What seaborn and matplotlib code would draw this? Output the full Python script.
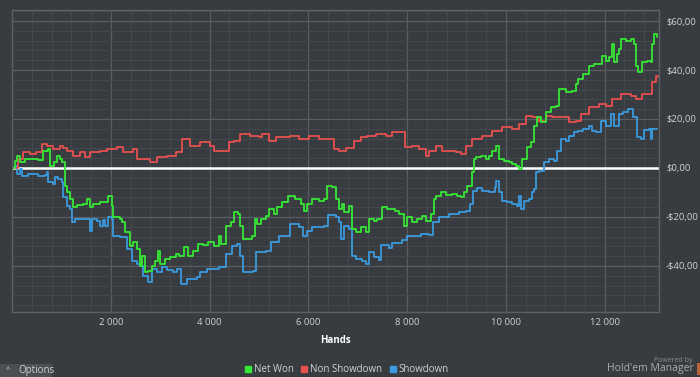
import pandas as pd
import seaborn as sns
import matplotlib.pyplot as plt
from matplotlib.ticker import MultipleLocator, FuncFormatter
from matplotlib.lines import Line2D
from matplotlib.patches import Rectangle

# values (hands, dollars)
net_hands = [0, 60, 100, 160, 260, 360, 530, 630, 730, 770, 850, 910, 970, 1010, 1070, 1110, 1170, 1230,
             1310, 1430, 1520, 1580, 1640, 1780, 1940, 1980, 2020, 2040, 2180, 2220, 2280, 2380, 2440, 2530,
             2590, 2630, 2690, 2750, 2830, 2890, 2950, 2990, 3090, 3190, 3330, 3390, 3490, 3560, 3660, 3760,
             3860, 3960, 4100, 4200, 4240, 4340, 4440, 4500, 4570, 4610, 4670, 4850, 4910, 4970, 5050, 5150,
             5210, 5310, 5370, 5470, 5580, 5680, 5740, 5860, 5920, 5980, 6080, 6220, 6320, 6380, 6480, 6570,
             6630, 6690, 6730, 6830, 6890, 6970, 7070, 7170, 7230, 7330, 7390, 7490, 7600, 7680, 7760, 7840,
             7940, 8000, 8100, 8200, 8300, 8380, 8480, 8540, 8580, 8690, 8790, 8910, 9010, 9090, 9150, 9210,
             9310, 9350, 9390, 9490, 9600, 9660, 9720, 9800, 9860, 9960, 10060, 10120, 10200, 10260, 10320,
             10420, 10500, 10560, 10630, 10710, 10810, 10910, 11010, 11070, 11210, 11330, 11410, 11470, 11570,
             11680, 11780, 11880, 11940, 12020, 12080, 12140, 12180, 12240, 12280, 12340, 12440, 12540, 12600,
             12640, 12680, 12750, 12850, 12930, 12950, 12990, 13050]
net_won = [0, 2.9, 4.9, 2.4, 3.7, 3.7, 3.3, 6.9, 7.8, 0.8, 2.4, 4.9, 3.7, 2.4, -7.3, -9.8, -12.6, -15.9,
           -15.1, -14.7, -12.6, -15.9, -14.7, -13.9, -11.4, -11.4, -15.5, -20.0, -20.8, -22.0, -26.1, -31.8,
           -30.2, -33.0, -40.0, -35.9, -42.4, -42.0, -40.0, -37.9, -33.9, -39.2, -37.1, -36.3, -35.1, -35.9,
           -32.2, -35.9, -33.9, -31.0, -31.4, -30.2, -31.8, -27.7, -31.0, -23.7, -22.0, -18.0, -18.8, -23.7,
           -29.0, -27.7, -20.8, -22.8, -20.8, -19.6, -16.7, -18.8, -15.9, -13.9, -11.4, -11.4, -12.6, -14.7,
           -17.5, -14.7, -12.6, -13.5, -12.6, -7.3, -7.8, -12.6, -16.7, -14.7, -18.0, -15.5, -24.9, -26.1,
           -24.1, -26.1, -20.8, -21.6, -20.8, -15.9, -16.7, -16.7, -17.5, -18.8, -23.7, -20.0, -22.0, -20.8,
           -19.6, -21.6, -18.8, -12.6, -11.4, -9.8, -11.0, -10.6, -11.4, -11.8, -9.8, -7.3, -1.6, 3.7, 4.5,
           4.9, 3.7, 4.9, 6.9, 9.0, 3.7, 2.9, 2.4, 1.6, 0.8, -0.4, 3.7, 8.6, 10.6, 17.1, 20.8, 18.8, 22.8,
           24.9, 25.3, 32.2, 31.0, 31.4, 34.3, 36.3, 38.4, 41.6, 42.4, 42.4, 45.7, 43.7, 45.3, 50.6, 43.2,
           46.5, 48.6, 52.6, 51.8, 52.6, 50.6, 41.6, 39.2, 43.2, 43.7, 43.2, 50.6, 54.7, 53.4]

nsd_hands = [0, 120, 220, 360, 480, 610, 710, 830, 970, 1030, 1110, 1230, 1370, 1470, 1580, 1780, 1920,
             2120, 2240, 2440, 2530, 2650, 2790, 2930, 3130, 3330, 3450, 3600, 3800, 4000, 4100, 4200, 4400,
             4500, 4610, 4810, 5010, 5070, 5210, 5350, 5620, 5820, 6020, 6220, 6420, 6520, 6630, 6770, 6930,
             7070, 7190, 7370, 7580, 7700, 7900, 7960, 8100, 8240, 8380, 8440, 8590, 8710, 8850, 8990, 9090,
             9190, 9310, 9510, 9720, 9920, 10120, 10260, 10400, 10520, 10670, 10810, 10930, 11130, 11270,
             11410, 11530, 11680, 11880, 12020, 12140, 12340, 12540, 12630, 12750, 12890, 12950, 13030, 13070]
non_showdown = [0, 3.7, 6.5, 5.7, 6.5, 9.8, 9.0, 7.8, 9.0, 8.2, 6.9, 4.9, 6.5, 4.5, 6.5, 6.9, 7.8, 8.6,
                6.5, 7.8, 3.7, 3.7, 2.4, 4.5, 4.9, 6.5, 11.8, 9.0, 10.6, 9.0, 6.9, 6.9, 10.6, 11.0, 13.9,
                13.1, 12.6, 13.9, 11.0, 12.6, 13.1, 11.8, 13.1, 11.8, 11.8, 7.8, 6.9, 8.2, 11.0, 12.6, 13.1,
                13.9, 13.1, 14.7, 14.7, 8.6, 9.0, 7.8, 4.9, 6.9, 9.0, 6.9, 6.9, 6.5, 5.7, 9.0, 11.8, 13.1,
                15.1, 16.7, 15.9, 18.0, 21.2, 20.8, 19.2, 21.2, 20.8, 20.8, 18.8, 19.2, 22.0, 24.9, 26.1,
                25.3, 28.2, 30.2, 29.4, 28.2, 30.2, 30.2, 35.1, 37.5, 37.1]

sd_hands = [0, 60, 100, 160, 200, 320, 530, 670, 710, 730, 830, 870, 930, 1010, 1030, 1110, 1170, 1210,
            1270, 1370, 1520, 1580, 1620, 1720, 1780, 1840, 1880, 1940, 2020, 2040, 2180, 2240, 2320, 2420,
            2530, 2590, 2650, 2750, 2830, 2930, 3030, 3130, 3250, 3350, 3430, 3540, 3740, 3800, 3940, 4200,
            4340, 4460, 4550, 4610, 4670, 4870, 4950, 5150, 5250, 5410, 5620, 5820, 5900, 5980, 6080, 6220,
            6320, 6400, 6570, 6630, 6670, 6730, 6830, 6890, 6970, 7090, 7170, 7230, 7330, 7430, 7470, 7640,
            7700, 7900, 8000, 8140, 8280, 8440, 8520, 8650, 8850, 9050, 9190, 9270, 9330, 9410, 9510, 9660,
            9780, 9800, 9860, 9920, 10020, 10120, 10220, 10260, 10300, 10360, 10460, 10520, 10560, 10610,
            10670, 10770, 10870, 10970, 11030, 11110, 11210, 11270, 11370, 11470, 11570, 11680, 11740,
            11820, 11920, 12020, 12120, 12180, 12280, 12380, 12480, 12580, 12650, 12730, 12790, 12890,
            12930, 12950, 13050]
showdown = [0, 0.8, -2.4, -0.4, -3.3, -2.4, -3.3, -2.9, -1.6, -5.7, -6.5, -3.7, -4.5, -5.7, -11.8, -15.5,
            -16.7, -22.0, -20.8, -20.8, -20.8, -25.7, -20.8, -21.6, -23.7, -21.2, -23.7, -20.0, -20.8, -27.7,
            -28.2, -28.2, -33.0, -37.9, -39.2, -40.0, -44.1, -46.5, -41.2, -42.4, -40.4, -41.6, -42.4, -41.2,
            -47.3, -45.3, -44.5, -42.4, -41.2, -40.4, -35.1, -31.8, -31.0, -35.9, -42.4, -42.0, -34.3, -33.9,
            -30.2, -27.7, -22.8, -24.1, -27.7, -25.7, -24.1, -24.1, -23.7, -19.2, -20.0, -22.0, -29.0, -23.7,
            -24.9, -35.9, -37.1, -37.9, -39.2, -34.3, -36.3, -37.5, -31.4, -32.6, -30.6, -29.4, -27.7, -27.7,
            -26.9, -27.3, -22.0, -20.0, -18.8, -18.0, -17.5, -14.7, -9.4, -8.2, -9.4, -9.8, -7.8, -5.3, -9.8,
            -13.5, -13.9, -14.7, -15.5, -11.4, -16.7, -13.5, -12.6, -9.8, -8.6, -1.6, -1.2, 2.4, 3.7, 2.9,
            6.9, 11.8, 11.0, 13.1, 14.7, 15.1, 15.9, 17.1, 15.1, 14.7, 19.2, 17.1, 22.0, 17.1, 22.0, 22.8,
            24.1, 20.8, 12.6, 11.8, 15.5, 15.9, 11.8, 15.9, 15.9]

series_names = ["Net Won", "Non Showdown", "Showdown"]
colors = {"Net Won": "#35e835", "Non Showdown": "#e8504f", "Showdown": "#3a9be0"}
x_ticks = [2000, 4000, 6000, 8000, 10000, 12000]

df = pd.concat([
    pd.DataFrame({"hands": sd_hands, "won": showdown, "series": "Showdown"}),
    pd.DataFrame({"hands": nsd_hands, "won": non_showdown, "series": "Non Showdown"}),
    pd.DataFrame({"hands": net_hands, "won": net_won, "series": "Net Won"}),
])

bg = "#383b3f"
txt = "#cfd2d4"

sns.set_style("dark")
plt.rcParams["font.family"] = ["Open Sans", "DejaVu Sans"]

fig = plt.figure(figsize=(7, 3.77), dpi=100, facecolor=bg)
ax = fig.add_axes([12 / 700, 1 - 312 / 377, 647 / 700, 302 / 377])
ax.set_facecolor(bg)

# grid
ax.xaxis.set_major_locator(MultipleLocator(2000))
ax.xaxis.set_minor_locator(MultipleLocator(400))
ax.yaxis.set_major_locator(MultipleLocator(20))
ax.yaxis.set_minor_locator(MultipleLocator(4))
ax.grid(which="major", color="#595d61", linewidth=0.9)
ax.grid(which="minor", color="#45494d", linewidth=0.7)
ax.set_axisbelow(True)

sns.lineplot(data=df, x="hands", y="won", hue="series", palette=colors, ax=ax,
             estimator=None, sort=False, drawstyle="steps-post", linewidth=1.3, legend=False)

ax.axhline(0, color="white", linewidth=1.8, zorder=1.5)

ax.set_xlim(0, 13100)
ax.set_ylim(-58.8, 64.5)

ax.set_xticks(x_ticks, labels=[f"{t:,}".replace(",", " ") for t in x_ticks])
ax.yaxis.tick_right()
ax.yaxis.set_major_formatter(FuncFormatter(
    lambda v, p: ("-" if v < 0 else "") + "$" + f"{abs(v):.2f}".replace(".", ",")))
ax.tick_params(axis="both", which="both", length=0, colors=txt, labelsize=6.8)
ax.tick_params(axis="x", pad=4)
ax.tick_params(axis="y", pad=5)
ax.set_xlabel("Hands", color="white", fontsize=7, fontweight="bold", labelpad=6)
ax.set_ylabel("")

for s in ax.spines.values():
    s.set_color("#5c6064")
    s.set_linewidth(1)

# legend
handles = [Line2D([], [], marker="s", linestyle="", markersize=4, color=colors[n]) for n in series_names]
fig.legend(handles, series_names, loc="center", bbox_to_anchor=(347 / 700, 1 - 370 / 377), ncol=3,
           frameon=False, fontsize=7, labelcolor=txt, handletextpad=0.3, columnspacing=0.8,
           handlelength=0.6)

# options button and branding
fig.patches.append(Rectangle((0, 0), 52 / 700, 13 / 377, transform=fig.transFigure,
                             facecolor="#4b4e52", edgecolor="none"))
fig.text(6 / 700, 6.5 / 377, "^", color=txt, fontsize=5.5, va="center")
fig.text(18 / 700, 6 / 377, "Options", color=txt, fontsize=7, va="center")
fig.text(693 / 700, 1 - 360 / 377, "Powered by", color="#8a8e92", fontsize=5, ha="right", va="center")
fig.text(694 / 700, 1 - 369 / 377, "Hold'em Manager", color="#a9adb0", fontsize=7.5, ha="right", va="center")
fig.patches.append(Rectangle((697 / 700, 2 / 377), 3 / 700, 12 / 377, transform=fig.transFigure,
                             facecolor="#b8643a", edgecolor="none"))

fig.savefig("out.png", dpi=100, facecolor=bg)
